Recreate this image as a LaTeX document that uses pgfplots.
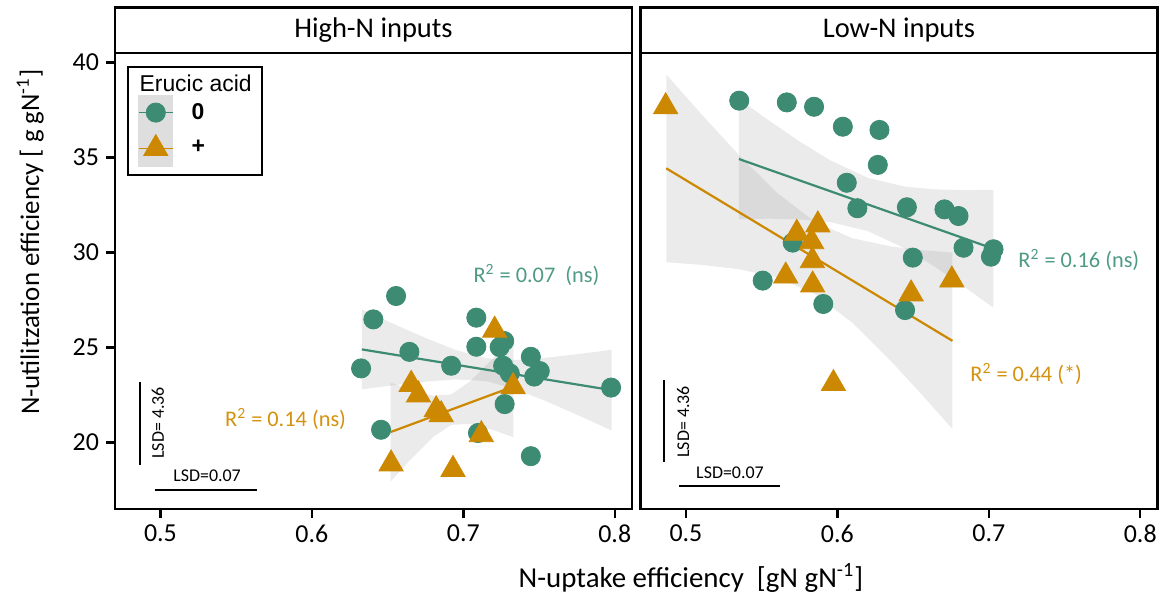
\documentclass[border=0pt]{standalone}
\usepackage{pgfplots}
\pgfplotsset{compat=1.18}
\usepackage{fontspec}
\setmainfont{Carlito}
\newfontfamily\arialfont{Liberation Sans}
\definecolor{teal0}{HTML}{3D8B73}
\definecolor{orng}{HTML}{CC8800}
\definecolor{tealtxt}{HTML}{4E9A85}
\definecolor{orngtxt}{HTML}{D4920F}
\definecolor{keybg}{HTML}{DEDEDE}

\pgfplotsset{
  panel/.style={
    scale only axis, width=258.5bp, height=228bp,
    xmin=0.470, xmax=0.8114, ymin=16.5, ymax=40.5,
    clip=false,
    axis line style={line width=1.3bp},
    tick align=outside, major tick length=4.5bp,
    tick style={line width=1.2bp, black},
    xtick pos=left, ytick pos=left,
    xtick={0.5,0.6,0.7,0.8}, xticklabels={0.5,0.6,0.7,0.8},
    /pgf/number format/assume math mode=true,
    ticklabel style={font=\fontsize{13}{15}\selectfont},
    anchor=south west,
  },
  band/.style={draw=none, fill=gray, fill opacity=0.16, forget plot},
  fitT/.style={teal0, line width=1.1bp, forget plot},
  fitO/.style={orng, line width=1.1bp, forget plot},
  ptsT/.style={teal0, only marks, mark=*, mark size=4.8bp, line width=0.4bp, mark options={fill=teal0, draw=teal0, solid}},
  ptsO/.style={orng, only marks, mark=triangle*, mark size=7.0bp, line width=0.4bp, mark options={fill=orng, draw=orng, solid}},
  lsd/.style={black, line width=0.7bp, forget plot},
}

\begin{document}
\begin{tikzpicture}
\useasboundingbox (0,0) rectangle (584bp,298.5bp);

% ---------------- High-N panel ----------------
\begin{axis}[panel, at={(57.5bp,44bp)},
  ytick={20,25,30,35,40},
  ylabel={N-utilitzation efficiency [ g gN\textsuperscript{-1}]},
  ylabel style={at={(axis description cs:-0.164,0.585)}, anchor=center, font=\fontsize{13.5}{15}\selectfont},
  legend style={at={(rel axis cs:0.0232,0.9715)}, anchor=north west, draw=black, line width=1bp,
    fill=white, inner xsep=5bp, inner ysep=4bp, row sep=0pt, column sep=9bp,
    nodes={inner sep=0pt}, cells={anchor=west},
    font=\arialfont\fontsize{11.5}{13}\selectfont},
  legend cell align=left,
]
\addlegendimage{empty legend}
\addlegendentry{\hspace*{-26bp}\rule[-7bp]{0pt}{1pt}Erucic acid}

\addplot[band] coordinates {(0.633,27.00) (0.655,26.205) (0.675,25.505) (0.695,24.869) (0.715,24.434) (0.735,24.349) (0.755,24.465) (0.775,24.645) (0.798,24.88) (0.798,20.63) (0.775,21.463) (0.755,22.163) (0.735,22.799) (0.715,23.234) (0.695,23.319) (0.675,23.203) (0.655,23.023) (0.633,22.80)} -- cycle;
\addplot[band] coordinates {(0.652,23.15) (0.665,22.786) (0.68,22.467) (0.692,22.53) (0.705,23.248) (0.72,24.464) (0.733,25.599) (0.733,20.281) (0.72,20.648) (0.705,20.98) (0.692,20.93) (0.68,20.285) (0.665,19.082) (0.652,17.95)} -- cycle;
\addplot[fitT] coordinates {(0.633,24.90) (0.798,22.755)};
\addplot[fitO] coordinates {(0.652,20.55) (0.733,22.94)};

\addplot[ptsT, legend image code/.code={
    \fill[keybg] (0bp,-8.8bp) rectangle (17bp,8.8bp);
    \draw[teal0, line width=0.8bp] (0bp,0bp) -- (17bp,0bp);
    \draw[teal0, mark=*, mark size=4.8bp, mark options={fill=teal0, draw=teal0}] plot coordinates {(8.5bp,0bp)};}]
 table {
0.6556 27.71
0.6406 26.48
0.7086 26.57
0.6644 24.77
0.7086 25.04
0.7270 25.34
0.7240 25.02
0.6325 23.90
0.6920 24.04
0.7446 24.51
0.7263 24.04
0.7307 23.64
0.7505 23.76
0.7468 23.47
0.7976 22.89
0.7273 22.02
0.6457 20.67
0.7097 20.50
0.7446 19.28
};
\addlegendentry{\textbf{0}}
\addplot[ptsO, legend image code/.code={
    \fill[keybg] (0bp,-8.8bp) rectangle (17bp,8.8bp);
    \draw[orng, line width=0.8bp] (0bp,0bp) -- (17bp,0bp);
    \draw[orng, mark=triangle*, mark size=7.0bp, mark options={fill=orng, draw=orng}] plot coordinates {(8.5bp,0bp)};}]
 table {
0.7207 25.91
0.6656 23.06
0.6704 22.50
0.6821 21.72
0.6854 21.46
0.7329 22.94
0.7119 20.41
0.6523 18.87
0.6932 18.58
};
\addlegendentry{\textbf{+}}

\addplot[lsd] coordinates {(0.4865,18.82) (0.4865,23.18)};
\addplot[lsd] coordinates {(0.4964,17.5) (0.5638,17.5)};
\node[rotate=90, font=\fontsize{9}{10}\selectfont] at (axis cs:0.4984,21.03) {LSD= 4.36};
\node[font=\fontsize{9}{10}\selectfont] at (axis cs:0.5308,18.24) {LSD=0.07};

\node[anchor=west, inner sep=0pt, text=tealtxt, font=\fontsize{11.2}{13}\selectfont] at (axis cs:0.7065,28.82) {R\textsuperscript{2} = 0.07 \ (ns)};
\node[anchor=west, inner sep=0pt, text=orngtxt, font=\fontsize{11.2}{13}\selectfont] at (axis cs:0.5425,21.23) {R\textsuperscript{2} = 0.14 (ns)};

\draw[line width=1.3bp] (rel axis cs:0,1) rectangle (rel axis cs:1,1.0998);
\node[font=\fontsize{14.3}{16}\selectfont] at (rel axis cs:0.5,1.0499) {High-N inputs};
\node[font=\fontsize{14.5}{16}\selectfont] at (rel axis cs:1.114,-0.151) {N-uptake efficiency \ [gN gN\textsuperscript{-1}]};
\end{axis}

% ---------------- Low-N panel ----------------
\begin{axis}[panel, at={(320.25bp,44bp)}, ytick=\empty]
\addplot[band] coordinates {(0.535,38.08) (0.555,36.937) (0.575,35.847) (0.595,34.863) (0.62,33.932) (0.645,33.459) (0.665,33.319) (0.685,33.285) (0.703,33.3) (0.703,27.1) (0.685,28.127) (0.665,29.217) (0.645,30.201) (0.62,31.132) (0.595,31.605) (0.575,31.745) (0.555,31.779) (0.535,31.76)} -- cycle;
\addplot[band] coordinates {(0.487,39.371) (0.51,37.299) (0.535,35.128) (0.56,33.151) (0.585,31.622) (0.61,30.749) (0.635,30.324) (0.655,30.13) (0.676,29.992) (0.676,20.708) (0.655,22.588) (0.635,24.316) (0.61,26.293) (0.585,27.822) (0.56,28.695) (0.535,29.12) (0.51,29.351) (0.487,29.489)} -- cycle;
\addplot[fitT] coordinates {(0.535,34.92) (0.703,30.2)};
\addplot[fitO] coordinates {(0.487,34.43) (0.676,25.35)};

\addplot[ptsT] table {
0.5352 37.99
0.5666 37.90
0.5846 37.67
0.6036 36.62
0.6278 36.45
0.6267 34.61
0.6062 33.67
0.6132 32.33
0.5705 30.52
0.5507 28.52
0.6459 32.38
0.6707 32.27
0.6800 31.92
0.6833 30.25
0.7031 30.17
0.7014 29.78
0.6498 29.73
0.5907 27.29
0.6447 26.97
};
\addplot[ptsO] table {
0.4866 37.67
0.5732 31.01
0.5871 31.45
0.5830 30.57
0.5835 29.57
0.5659 28.76
0.5837 28.29
0.6487 27.82
0.6756 28.55
0.5974 23.10
};

\addplot[lsd] coordinates {(0.4855,18.99) (0.4855,23.29)};
\addplot[lsd] coordinates {(0.4956,17.71) (0.5623,17.71)};
\node[rotate=90, font=\fontsize{9}{10}\selectfont] at (axis cs:0.4982,21.09) {LSD= 4.36};
\node[font=\fontsize{9}{10}\selectfont] at (axis cs:0.5291,18.41) {LSD=0.07};

\node[anchor=west, inner sep=0pt, text=tealtxt, font=\fontsize{11.2}{13}\selectfont] at (axis cs:0.7193,29.59) {R\textsuperscript{2} = 0.16 (ns)};
\node[anchor=west, inner sep=0pt, text=orngtxt, font=\fontsize{11.2}{13}\selectfont] at (axis cs:0.6876,23.61) {R\textsuperscript{2} = 0.44 (*)};

\draw[line width=1.3bp] (rel axis cs:0,1) rectangle (rel axis cs:1,1.0998);
\node[font=\fontsize{14.3}{16}\selectfont] at (rel axis cs:0.5,1.0499) {Low-N inputs};
\end{axis}
\end{tikzpicture}
\end{document}
